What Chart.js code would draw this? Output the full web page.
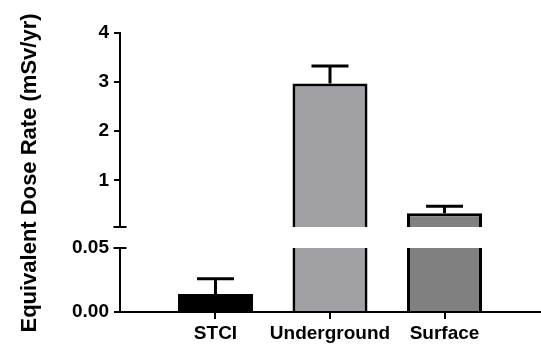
<!DOCTYPE html>
<html>
<head>
<meta charset="utf-8">
<script src="https://cdn.jsdelivr.net/npm/chart.js@4"></script>
<style>
  html, body { margin: 0; padding: 0; background: #fff; }
  #wrap { position: relative; width: 541px; height: 345px; }
  #wrap canvas { position: absolute; left: 0; top: 0; }
</style>
</head>
<body>
<div id="wrap">
  <canvas id="lower" width="541" height="345"></canvas>
  <canvas id="upper" width="541" height="345"></canvas>
</div>
<script>
const categories = ['STCI', 'Underground', 'Surface'];
const doseRate = [0.014, 2.97, 0.33];
const doseSD = [0.012, 0.36, 0.14];
const barColors = ['#000000', '#a1a1a5', '#808080'];
const upperTicks = [1, 2, 3, 4];
const lowerTicks = [0, 0.05];
const yTitle = 'Equivalent Dose Rate (mSv/yr)';

const FONT = '"Liberation Sans", Arial, sans-serif';
Chart.defaults.font.family = FONT;
Chart.defaults.font.weight = 'bold';
Chart.defaults.color = '#000';

// error bars, only where they fall inside the segment
const errorBars = {
  id: 'errorBars',
  afterDatasetsDraw(chart) {
    const { ctx, chartArea: a, scales: { x, y } } = chart;
    ctx.save();
    ctx.beginPath();
    ctx.rect(a.left, a.top - 2, a.right - a.left, a.bottom - a.top + 2);
    ctx.clip();
    ctx.strokeStyle = '#000';
    ctx.lineWidth = 3;
    doseRate.forEach((v, i) => {
      const px = x.getPixelForValue(i);
      const base = y.getPixelForValue(v);
      const top = y.getPixelForValue(v + doseSD[i]);
      if (top > a.bottom) return;
      ctx.beginPath();
      ctx.moveTo(px, base);
      ctx.lineTo(px, top);
      ctx.moveTo(px - 18.5, top);
      ctx.lineTo(px + 18.5, top);
      ctx.stroke();
    });
    ctx.restore();
  }
};

// little cap where the y axis is broken
const axisBreak = {
  id: 'axisBreak',
  afterDraw(chart, args, opts) {
    const { ctx, chartArea: a, scales: { y } } = chart;
    const py = Math.round(y.getPixelForValue(opts.at));
    ctx.save();
    ctx.strokeStyle = '#000';
    ctx.lineWidth = 2;
    ctx.beginPath();
    ctx.moveTo(a.left - 6.5, py);
    ctx.lineTo(a.left + 6.5, py);
    ctx.stroke();
    ctx.restore();
  }
};

const yAxisTitle = {
  id: 'yAxisTitle',
  afterDraw(chart) {
    const { ctx } = chart;
    ctx.save();
    ctx.translate(30, 173);
    ctx.rotate(-Math.PI / 2);
    ctx.font = 'bold 22px ' + FONT;
    ctx.fillStyle = '#000';
    ctx.textAlign = 'center';
    ctx.textBaseline = 'middle';
    ctx.fillText(yTitle, 0, 0);
    ctx.restore();
  }
};

function buildChart(id, segment) {
  const isUpper = segment === 'upper';
  return new Chart(document.getElementById(id), {
    type: 'bar',
    data: {
      datasets: [{
        data: doseRate.map((v, i) => ({ x: i, y: v })),
        backgroundColor: barColors,
        borderColor: '#000',
        borderWidth: 3,
        barPercentage: 0.655,
        categoryPercentage: 1,
        clip: 0
      }]
    },
    options: {
      responsive: false,
      animation: false,
      devicePixelRatio: 1,
      layout: {
        padding: isUpper
          ? { left: 0, top: 33, right: 1, bottom: 118 }
          : { left: 0, top: 248, right: 1, bottom: 0 }
      },
      plugins: {
        legend: { display: false },
        tooltip: { enabled: false },
        axisBreak: { at: 0.05 }
      },
      scales: {
        x: {
          type: 'linear',
          display: !isUpper,
          offset: false,
          min: -0.834,
          max: 2.834,
          afterBuildTicks: s => { s.ticks = categories.map((c, i) => ({ value: i })); },
          afterFit: s => { if (!isUpper) s.height = 33; },
          ticks: {
            callback: v => categories[v],
            font: { size: 19, weight: 'bold' },
            color: '#000',
            padding: 3,
            maxRotation: 0,
            autoSkip: false
          },
          grid: { offset: false, drawOnChartArea: false, tickLength: 7, lineWidth: 2, color: '#000' },
          border: { display: true, color: '#000', width: 2 }
        },
        y: {
          min: isUpper ? 0.05 : 0,
          max: isUpper ? 4 : 0.05,
          afterBuildTicks: s => {
            s.ticks = (isUpper ? upperTicks : lowerTicks).map(v => ({ value: v }));
          },
          afterFit: s => { s.width = 120; },
          ticks: {
            callback: v => isUpper ? String(v) : v.toFixed(2),
            font: { size: 19, weight: 'bold' },
            color: '#000',
            padding: 5
          },
          grid: { drawOnChartArea: false, tickLength: 6, lineWidth: 2, color: '#000' },
          border: { display: true, color: '#000', width: 2 }
        }
      }
    },
    plugins: isUpper ? [errorBars, axisBreak] : [errorBars, axisBreak, yAxisTitle]
  });
}

buildChart('lower', 'lower');
buildChart('upper', 'upper');
</script>
</body>
</html>
